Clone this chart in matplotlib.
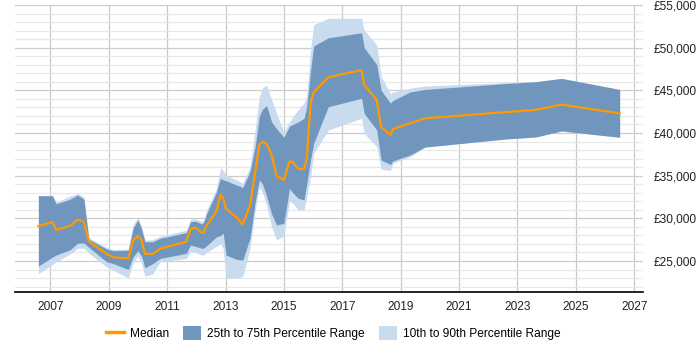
import matplotlib
matplotlib.use('Agg')
import matplotlib.pyplot as plt
from matplotlib.patches import Patch
from matplotlib.lines import Line2D
from matplotlib.ticker import MultipleLocator, FuncFormatter
import numpy as np

plt.rcParams['font.family'] = ['Liberation Sans', 'DejaVu Sans']

# ---------------------------------------------------------------------------
# Data (decimal years, salary percentiles in GBP)
# ---------------------------------------------------------------------------
years = [
    2006.59, 2007.07, 2007.20, 2007.67, 2007.94, 2008.15, 2008.32, 2008.93,
    2009.16, 2009.67, 2009.84, 2010.00, 2010.12, 2010.24, 2010.51, 2010.76,
    2011.66, 2011.80, 2011.98, 2012.18, 2012.25, 2012.36, 2012.68, 2012.83,
    2012.92, 2013.02, 2013.38, 2013.59, 2013.84, 2014.02, 2014.16, 2014.27,
    2014.41, 2014.58, 2014.75, 2015.00, 2015.19, 2015.30, 2015.49, 2015.69,
    2015.78, 2015.92, 2016.02, 2016.52, 2017.66, 2017.75, 2018.18, 2018.33,
    2018.65, 2018.73, 2019.32, 2019.83, 2022.60, 2023.62, 2024.51, 2026.50,
]
p10 = [
    23500, 24600, 24900, 25800, 26500, 26500, 25900, 24300,
    23900, 23000, 24800, 25600, 24800, 23200, 23500, 24900,
    25300, 26100, 26000, 25700, 25700, 26000, 26700, 27000,
    26500, 22970, 22970, 23200, 26500, 31000, 33700, 33000,
    31500, 29000, 27460, 27950, 32000, 31800, 30980, 30980,
    32500, 35000, 37600, 40350, 41720, 39960, 38390, 35750,
    35600, 36450, 37200, 38350, 39300, 39530, 40240, 39500,
]
p25 = [
    24400, 25450, 25700, 26300, 27100, 27100, 26600, 24900,
    24700, 24000, 25500, 26200, 25600, 24200, 24700, 25300,
    25900, 26870, 26700, 26500, 26500, 26800, 27800, 28000,
    28250, 25700, 25200, 25100, 27700, 32000, 34500, 34000,
    32540, 30500, 29220, 29420, 33500, 33000, 32350, 32150,
    34000, 37000, 38800, 43080, 44070, 42310, 40350, 36840,
    36300, 36720, 37420, 38350, 39300, 39530, 40240, 39500,
]
median = [
    29100, 29570, 28650, 29100, 29850, 29600, 27300, 25820,
    25430, 25310, 27400, 27930, 27450, 25850, 25820, 26440,
    27260, 28710, 28900, 28300, 28320, 29200, 30750, 32800,
    32350, 31100, 30100, 29300, 31500, 35500, 38600, 38980,
    38710, 37420, 34960, 34490, 36640, 36640, 35800, 35750,
    36900, 43670, 44750, 46530, 47380, 45650, 43870, 40700,
    39770, 40450, 41140, 41720, 42450, 42700, 43330, 42300,
]
p75 = [
    32650, 32650, 31700, 32230, 32730, 32230, 27550, 26400,
    26200, 26250, 28900, 29800, 28800, 27250, 27260, 27660,
    28320, 29610, 29650, 29340, 29500, 30590, 33000, 34700,
    34500, 34400, 33900, 33600, 35500, 38500, 42000, 42800,
    43200, 41300, 40500, 39500, 40800, 41000, 41300, 41720,
    43000, 47500, 50200, 51150, 51750, 50000, 48000, 45000,
    43500, 43800, 44800, 45100, 45800, 46010, 46400, 45100,
]
p90 = [
    32650, 32650, 31900, 32600, 32900, 32500, 27700, 26600,
    26350, 26400, 29300, 30100, 29100, 27450, 27500, 27900,
    28600, 29900, 29950, 29600, 29800, 31000, 33400, 35900,
    35600, 35100, 34500, 34100, 36000, 40500, 44300, 45300,
    45600, 43900, 42300, 40100, 41300, 41900, 42700, 43500,
    44300, 50000, 52700, 53440, 53440, 52070, 50320, 46600,
    44600, 44800, 45240, 45510, 45900, 46010, 46400, 45100,
]

COL_LIGHT  = '#c9dbee'
COL_DARK   = '#7096bd'
COL_MEDIAN = '#ff9900'

# ---------------------------------------------------------------------------
# Plot
# ---------------------------------------------------------------------------
fig = plt.figure(figsize=(7, 3.5), dpi=100)
ax = fig.add_axes([15 / 700, 57.7 / 350, (643 - 15) / 700, (292.3 - 5) / 350])

ax.fill_between(years, p10, p90, color=COL_LIGHT, linewidth=0, zorder=2)
ax.fill_between(years, p25, p75, color=COL_DARK, linewidth=0, zorder=3)
ax.plot(years, median, color=COL_MEDIAN, linewidth=1.6, zorder=4)

ax.set_xlim(2005.79, 2027.3)
ax.set_ylim(21330, 55000)

ax.set_xticks(np.arange(2007, 2028, 2))
ax.xaxis.set_major_formatter(FuncFormatter(lambda v, p: f'{int(round(v))}'))
ax.yaxis.set_major_locator(MultipleLocator(5000))
ax.yaxis.set_minor_locator(MultipleLocator(1000))
ax.yaxis.set_major_formatter(FuncFormatter(lambda v, p: f'£{int(v):,}'))
ax.yaxis.tick_right()

ax.grid(axis='x', which='major', color='#c8c8c8', linewidth=0.9, zorder=0)
ax.grid(axis='y', which='major', color='#cccccc', linewidth=0.9, zorder=0)
ax.grid(axis='y', which='minor', color='#e8e8e8', linewidth=0.9, zorder=0)
ax.set_axisbelow(True)

for side in ['top', 'left', 'right']:
    ax.spines[side].set_visible(False)
ax.spines['bottom'].set_color('black')
ax.spines['bottom'].set_linewidth(1.2)

ax.tick_params(axis='x', length=0, pad=6, labelsize=8.6, colors='#222222')
ax.tick_params(axis='y', which='both', length=0, pad=8, labelsize=8.6,
               colors='#222222')

handles = [
    Line2D([0], [0], color=COL_MEDIAN, linewidth=2.5),
    Patch(facecolor=COL_DARK, edgecolor='none'),
    Patch(facecolor=COL_LIGHT, edgecolor='none'),
]
labels = ['Median', '25th to 75th Percentile Range', '10th to 90th Percentile Range']
fig.legend(handles, labels, loc='center', bbox_to_anchor=(0.476, 0.048),
           ncol=3, frameon=False, fontsize=8.6, handlelength=1.5,
           handleheight=1.4, handletextpad=0.5, columnspacing=1.2)

fig.savefig('out.png', dpi=100)
